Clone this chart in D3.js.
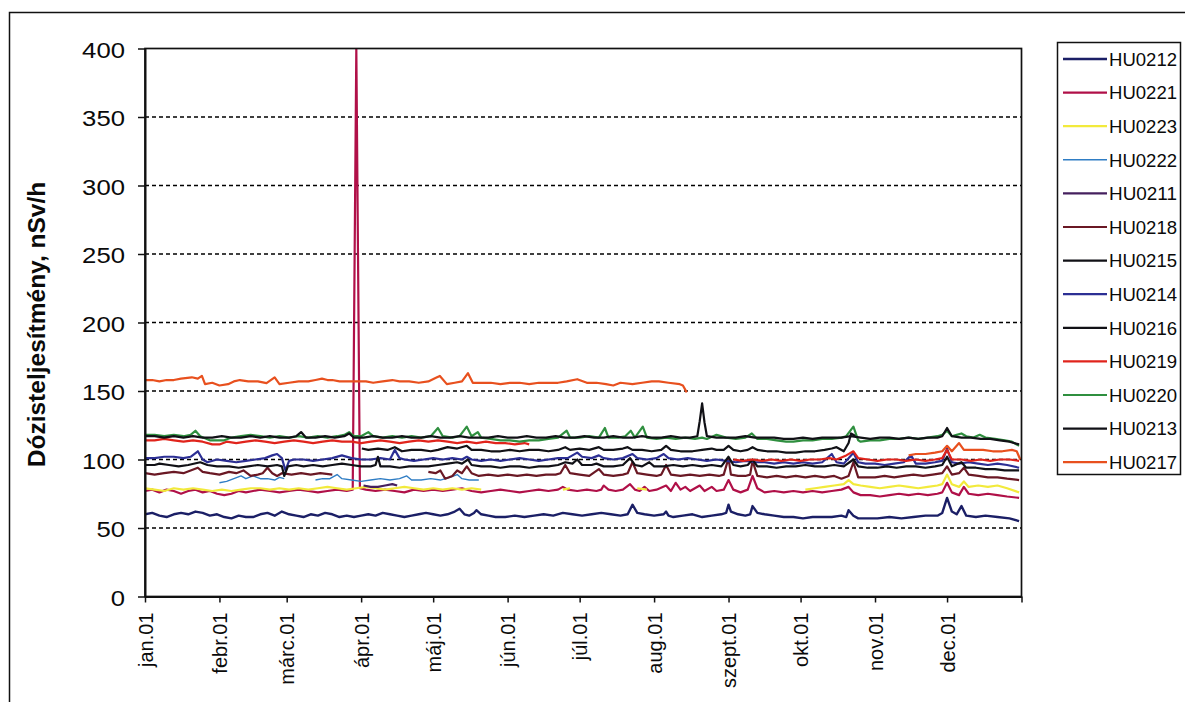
<!DOCTYPE html>
<html>
<head>
<meta charset="utf-8">
<script src="https://cdn.jsdelivr.net/npm/d3@7/dist/d3.min.js"></script>
<style>
  html, body { margin: 0; padding: 0; background: #fff; }
  svg { display: block; }
  text { font-family: "Liberation Sans", Arial, sans-serif; fill: #0a0a0a; }
</style>
</head>
<body>
<svg id="chart" width="1185" height="702"></svg>
<script>
// Daily dose rate by station, keypoints as [day of year, nSv/h]; null breaks a line.
const HU0212 = [[0,60],[3,61],[6,59],[9,58],[12,60],[15,61],[18,60],[21,62],[24,61],[27,59],[30,60],[33,58],[36,57],[39,59],[42,58],[45,58],[48,60],[51,61],[54,59],[57,62],[60,60],[63,59],[66,58],[69,60],[72,59],[75,61],[78,60],[81,58],[84,59],[87,58],[90,59],[93,60],[96,59],[99,61],[102,60],[105,59],[108,58],[111,59],[114,60],[117,61],[120,60],[123,59],[126,60],[129,62],[131,64],[133,60],[135,59],[137,61],[138,63],[140,60],[143,59],[146,58],[150,58],[154,59],[158,58],[162,59],[166,60],[170,59],[174,61],[178,60],[182,59],[186,60],[190,61],[194,60],[198,59],[201,60],[203,67],[205,61],[208,60],[212,59],[216,60],[217,62],[218,59],[220,58],[224,59],[228,60],[232,58],[236,59],[240,60],[242,61],[243,67],[244,62],[247,60],[250,59],[252,60],[253,66],[255,61],[258,60],[262,59],[266,58],[270,58],[274,57],[278,58],[282,58],[286,58],[290,59],[292,58],[293,63],[295,59],[297,57],[300,57],[305,57],[310,58],[315,57],[320,58],[325,59],[330,59],[332,61],[334,72],[336,62],[338,60],[340,66],[342,59],[346,58],[350,59],[355,58],[360,57],[364,55]];
const HU0221 = [[0,77],[3,78],[6,76],[9,78],[12,77],[15,75],[18,77],[21,78],[24,76],[27,77],[30,75],[33,74],[36,75],[39,77],[42,76],[45,77],[48,78],[52,77],[56,76],[60,77],[64,78],[68,77],[72,76],[76,77],[80,78],[84,77],[86.5,78],[88,400],[89.5,79],[92,78],[96,77],[100,78],[104,77],[108,76],[112,78],[116,77],[120,78],[124,77],[128,78],[132,79],[136,77],[140,76],[144,77],[148,78],[152,77],[156,76],[160,77],[164,78],[168,77],[172,78],[174,80],[176,78],[180,77],[184,78],[188,77],[190,78],[191,81],[193,78],[196,77],[199,78],[202,82],[204,78],[206,77],[208,80],[210,77],[213,78],[217,81],[219,77],[221,83],[223,78],[225,80],[227,77],[231,81],[233,77],[236,80],[238,77],[241,78],[243,85],[245,78],[248,76],[251,78],[253,88],[255,79],[258,76],[262,77],[266,76],[270,77],[274,76],[278,77],[282,76],[286,77],[290,78],[293,80],[295,76],[298,74],[302,74],[306,73],[310,74],[314,75],[318,74],[322,75],[326,74],[330,75],[332,76],[334,83],[336,76],[339,74],[341,80],[343,75],[347,74],[351,75],[355,74],[359,73],[364,72]];
const HU0223 = [[0,79],[4,78],[8,77],[12,79],[16,78],[20,79],[24,78],[28,77],[32,78],[36,77],[40,78],[44,79],[48,79],[52,78],[56,79],[60,78],[64,79],[68,78],[72,79],[76,80],[80,79],[84,78],[88,79],[92,80],[96,79],[100,78],[104,79],[108,80],[112,79],[116,78],[120,79],[124,78],[128,79],[132,78],[136,79],[140,78],[141,null],[174,78],[177,79],[178,null],[205,79],[209,78],[210,null],[275,78],[279,79],[283,80],[287,81],[291,82],[293,85],[295,82],[298,81],[302,80],[306,79],[310,80],[314,81],[318,80],[322,79],[326,80],[330,81],[332,82],[334,89],[336,82],[339,80],[341,84],[343,80],[347,81],[351,80],[355,81],[359,79],[364,76]];
const HU0222 = [[31,83],[34,84],[37,86],[40,88],[42,86],[45,88],[48,86],[51,86],[54,85],[56,87],[58,86],[59,null],[71,85],[74,86],[77,86],[80,89],[82,86],[86,85],[90,84],[94,85],[98,86],[102,85],[106,86],[109,88],[111,85],[115,85],[119,86],[123,85],[127,87],[130,89],[132,86],[135,85],[139,85]];
const HU0211 = [[91,81],[94,80],[97,80],[100,81],[103,82],[105,81]];
const HU0218 = [[0,90],[4,89],[8,90],[12,91],[16,90],[19,92],[22,94],[24,91],[27,90],[31,89],[35,91],[38,90],[41,92],[44,88],[47,89],[49,90],[51,94],[53,90],[55,88],[57,90],[61,89],[65,90],[69,89],[73,90],[78,89],[78.5,null],[118,91],[121,90],[123,92],[125,86],[128,88],[130,92],[132,90],[134,95],[136,90],[139,88],[143,89],[147,88],[151,89],[155,88],[159,89],[163,88],[167,89],[171,89],[173,90],[175,96],[177,90],[181,89],[185,88],[189,93],[191,89],[195,88],[199,89],[201,90],[203,98],[205,90],[209,89],[213,88],[215,89],[217,96],[219,89],[223,88],[227,89],[231,88],[235,89],[239,88],[241,89],[243,101],[244,89],[247,88],[250,88],[252,89],[253,99],[255,88],[259,87],[263,88],[267,87],[271,88],[275,87],[279,88],[283,87],[287,88],[290,86],[293,88],[295,98],[297,87],[300,87],[304,87],[308,88],[312,87],[316,88],[320,89],[324,88],[328,89],[332,90],[334,95],[336,89],[339,90],[341,94],[343,89],[347,88],[351,87],[355,87],[359,86],[364,85]];
const HU0215 = [[90.3,108],[93,107],[97,108],[101,107],[104,109],[107,106],[111,107],[115,107],[119,106],[122,107],[126,109],[130,108],[134,110],[136,107],[140,107],[144,106],[148,106],[152,107],[156,106],[160,107],[164,107],[168,106],[172,107],[175,109],[177,107],[181,108],[185,107],[189,109],[191,107],[195,107],[199,108],[201,109],[203,107],[207,107],[211,106],[215,107],[217,110],[219,107],[223,106],[228,106],[232,107],[236,108],[238,107],[241,107],[243,110],[245,107],[248,106],[251,107],[253,109],[255,107],[259,106],[263,106],[267,105],[271,105],[275,106],[279,106],[283,107],[286,108],[288,109],[291,106],[293,112],[294,119],[296,117]];
const HU0214 = [[0,101],[4,101],[8,102],[12,102],[16,101],[19,102],[22,106],[24,100],[26,98],[30,100],[34,99],[38,98],[42,99],[46,100],[50,101],[53,103],[55,104],[57,101],[58.5,92],[60,99],[62,100],[66,100],[70,99],[74,100],[78,101],[82,103],[86,101],[90,100],[94,100],[98,101],[102,100],[104,107],[106,101],[108,100],[112,99],[116,100],[120,101],[124,100],[128,101],[132,100],[134,102],[136,100],[140,99],[144,100],[148,99],[152,100],[156,101],[160,100],[164,99],[168,100],[172,101],[176,101],[178,103],[180,105],[182,102],[186,101],[189,103],[191,101],[195,100],[199,101],[203,104],[205,101],[209,100],[213,101],[216,104],[218,101],[222,100],[226,101],[230,100],[234,99],[238,100],[242,99],[246,98],[250,99],[254,98],[258,98],[262,97],[266,98],[270,97],[274,98],[278,97],[282,98],[286,104],[288,98],[291,97],[295,105],[297,98],[300,97],[304,97],[308,96],[312,97],[316,98],[319,103],[321,97],[325,97],[329,98],[332,99],[334,108],[336,98],[339,97],[343,98],[347,97],[351,96],[355,97],[359,96],[364,94]];
const HU0216 = [[0,96],[4,96],[6,97],[10,96],[14,95],[18,96],[23,98],[26,96],[30,95],[35,95],[39,94],[43,95],[47,96],[51,95],[55,96],[57,95],[58,88],[59.5,95],[63,96],[66,95],[70,96],[74,95],[78,96],[82,97],[86,96],[90,95],[94,95],[96,96],[97,102],[98,95],[102,95],[106,94],[110,95],[114,95],[118,95],[122,96],[126,97],[130,98],[132,97],[134.5,100],[136,96],[140,95],[144,95],[148,94],[152,95],[156,95],[160,94],[164,95],[168,95],[172,96],[175,98],[178,97],[180,100],[182,96],[186,96],[188,97],[191,95],[195,95],[199,96],[202,101],[204,96],[207,95],[210,98],[212,95],[216,95],[220,96],[224,95],[228,96],[232,95],[236,96],[240,95],[243,102],[245,96],[248,95],[251,96],[253,100],[255,95],[259,95],[263,94],[267,95],[271,95],[275,96],[279,95],[283,95],[287,96],[291,95],[295,100],[297,95],[301,94],[305,94],[309,95],[313,94],[317,95],[321,95],[325,94],[329,95],[332,96],[334,102],[336,95],[340,98],[342,94],[346,94],[350,93],[354,93],[358,92],[364,92]];
const HU0219 = [[0,114],[4,114],[8,115],[12,114],[16,113],[20,114],[24,113],[28,111],[31,111],[34,113],[38,112],[42,113],[46,114],[50,113],[54,112],[58,113],[62,114],[66,113],[70,112],[74,113],[78,114],[82,113],[86,113],[90,112],[94,113],[98,114],[102,113],[106,112],[110,113],[114,114],[118,113],[122,114],[126,113],[130,112],[134,113],[138,112],[142,113],[146,112],[150,112],[154,111],[158,112],[160,111],[160.5,null],[245,100],[249,99],[253,100],[257,99],[261,100],[265,99],[269,100],[273,99],[277,100],[281,100],[285,101],[288,100],[292,103],[295,106],[297,101],[301,100],[305,99],[309,100],[313,100],[317,99],[321,100],[325,99],[329,100],[332,101],[334,107],[336,100],[340,100],[344,99],[348,100],[352,99],[356,100],[360,100],[364,99]];
const HU0220 = [[0,118],[4,118],[8,117],[12,118],[16,117],[19,118],[21,121],[23,117],[27,114],[30,114],[33,114],[36,116],[40,117],[44,118],[48,117],[52,116],[56,117],[60,116],[64,117],[68,116],[72,117],[76,116],[80,117],[83,118],[85,120],[87,117],[90,117],[93,120],[95,117],[99,116],[103,117],[107,116],[111,117],[115,116],[119,117],[122,123],[124,117],[128,116],[131,117],[134,124],[136,117],[138.6,120],[140,116],[144,115],[148,114],[152,114],[156,113],[160,114],[164,114],[168,115],[172,116],[175.6,121],[177,116],[181,116],[185,117],[189,116],[191.5,123],[193,116],[197,116],[200,117],[202.3,121],[204,116],[207.3,124],[209,116],[213,115],[217,116],[221,115],[225,116],[229,115],[232,116],[234,115],[238,118],[242,116],[246,115],[250,116],[252.7,119],[255,115],[259,115],[263,114],[267,113],[270,113],[274,114],[278,114],[282,115],[286,115],[290,116],[292,117],[295,124],[297,114],[298,113],[302,114],[306,114],[310,115],[314,115],[318,116],[322,115],[326,116],[330,117],[332,118],[334,121],[336,117],[338,118],[340,119],[342,117],[345,116],[347.6,118],[350,116],[354,115],[358,114],[361,113],[364,110]];
const HU0213 = [[0,117],[4,117],[8,116],[12,117],[16,116],[20,117],[24,116],[28,116],[32,117],[36,116],[40,116],[44,117],[48,116],[52,117],[56,116],[60,116],[63,117],[65,120],[67,116],[71,116],[75,117],[79,116],[83,117],[85,119],[87,116],[91,116],[95,117],[99,116],[103,116],[107,117],[111,116],[115,116],[119,117],[123,116],[127,116],[131,117],[135,116],[139,116],[143,116],[147,117],[151,116],[155,116],[159,117],[163,116],[167,116],[171,117],[175,116],[179,116],[183,117],[187,116],[191,116],[195,117],[199,116],[203,116],[207,117],[211,116],[215,116],[219,117],[223,116],[227,116],[230,117],[231,128],[232,141],[233,127],[234,117],[238,116],[242,116],[246,116],[250,117],[254,116],[258,116],[262,116],[266,115],[270,115],[274,116],[278,115],[282,116],[286,116],[290,116],[294,117],[298,116],[302,115],[306,116],[310,116],[314,115],[318,116],[322,115],[326,116],[330,116],[332,117],[334,123],[336,117],[340,116],[344,116],[348,115],[352,115],[356,114],[360,113],[364,111]];
const HU0217 = [[0,158],[3,158],[6,157],[9,158],[12,158],[15,159],[19.5,160],[22,159],[23.7,161],[25,155],[28,156],[31,154],[34.6,155],[37,157],[39.5,158],[43,157],[47,157],[50.6,155.7],[54,160],[56,155],[60,156],[64,157],[68,157],[71,158],[73.7,159],[76,158],[78,158],[81,157],[85,157],[89,157],[92,157],[95,156],[99,157],[103,158],[106,157],[110,157],[114,156],[118,157],[121.6,160],[122.8,161],[125.7,155],[129,156],[132,157],[134.5,163],[136.5,156],[140,156],[144,156],[148,155],[152,156],[156,156],[160,155],[164,156],[168,156],[172,156],[175.6,157],[180,158.6],[184,156],[188,156],[192,155],[195,154],[198,156],[203,155],[207,156],[211,157],[214,157],[218,156],[222.7,155],[224,154],[225.6,149],[226,null],[318,103],[321,104],[325,104],[329,105],[332,106],[334,110],[336,106],[339,112],[341,107],[345,107],[349,107],[353,106],[357,106],[361,107],[363,106],[364.5,100]];

// Legend / drawing order
const seriesNames = ["HU0212","HU0221","HU0223","HU0222","HU0211","HU0218","HU0215","HU0214","HU0216","HU0219","HU0220","HU0213","HU0217"];
const seriesValues = [HU0212,HU0221,HU0223,HU0222,HU0211,HU0218,HU0215,HU0214,HU0216,HU0219,HU0220,HU0213,HU0217];
const seriesColors = ["#1b1f66","#b01048","#f2ea3c","#2f7dc4","#45205e","#6a1824","#111116","#2c2f94","#111116","#e0241c","#2f8f3f","#111116","#e8501e"];
const seriesWidths = [2.4,2.2,2.2,1.4,2.2,2.2,2.2,2.2,2.2,2.2,2.2,2.2,2.2];

const yTicks = [0,50,100,150,200,250,300,350,400];
const monthLabels = ["jan.01","febr.01","márc.01","ápr.01","máj.01","jún.01","júl.01","aug.01","szept.01","okt.01","nov.01","dec.01",""];
const yTitle = "Dózisteljesítmény, nSv/h";

const svg = d3.select("#chart");
const plot = { left: 145, right: 1021.5, top: 48.5, bottom: 596.5 };
const t0 = Date.UTC(2007, 0, 1), t1 = Date.UTC(2008, 0, 1);
const dayDate = d => new Date(t0 + d * 864e5);

const x = d3.scaleUtc().domain([new Date(t0), new Date(t1)]).range([plot.left, plot.right]);
const y = d3.scaleLinear().domain([0, 400]).range([plot.bottom, plot.top]);

// outer chart frame
svg.append("rect").attr("x", 9.5).attr("y", 12.5).attr("width", 1200).attr("height", 720)
  .attr("fill", "none").attr("stroke", "#111").attr("stroke-width", 1.5);

// dashed gridlines
svg.append("g").selectAll("line").data(yTicks.filter(v => v > 0 && v < 400)).join("line")
  .attr("x1", plot.left).attr("x2", plot.right)
  .attr("y1", d => y(d)).attr("y2", d => y(d))
  .attr("stroke", "#000").attr("stroke-width", 1.3).attr("stroke-dasharray", "4,3");

// clip for series
svg.append("clipPath").attr("id", "plotclip").append("rect")
  .attr("x", plot.left).attr("y", plot.top).attr("width", plot.right - plot.left).attr("height", plot.bottom - plot.top);

const line = d3.line().defined(p => p[1] != null).x(p => x(dayDate(p[0]))).y(p => y(p[1]));
const lines = svg.append("g").attr("clip-path", "url(#plotclip)");
seriesValues.forEach((vals, i) => {
  lines.append("path").datum(vals).attr("d", line)
    .attr("fill", "none").attr("stroke", seriesColors[i]).attr("stroke-width", seriesWidths[i])
    .attr("stroke-linejoin", "round");
});

// plot border
svg.append("rect").attr("x", plot.left).attr("y", plot.top)
  .attr("width", plot.right - plot.left).attr("height", plot.bottom - plot.top)
  .attr("fill", "none").attr("stroke", "#111").attr("stroke-width", 1.7);

// y axis; labels are set a little wide, as the printed digits are
const yAxis = svg.append("g").attr("transform", `translate(${plot.left},0)`)
  .call(d3.axisLeft(y).tickValues(yTicks).tickSize(7).tickPadding(13).tickSizeOuter(0));
yAxis.select(".domain").attr("stroke", "#111").attr("stroke-width", 2);
yAxis.selectAll(".tick line").attr("stroke", "#111").attr("stroke-width", 1.5);
yAxis.selectAll("text")
  .style("font-size", "22px")
  .attr("dy", "0.4em")
  .attr("textLength", d => String(d).length * 14.3)
  .attr("lengthAdjust", "spacingAndGlyphs");

// x axis
const monthTicks = d3.utcMonth.range(new Date(t0), new Date(t1 + 1));
const xAxis = svg.append("g").attr("transform", `translate(0,${plot.bottom})`)
  .call(d3.axisBottom(x).tickValues(monthTicks).tickSize(6).tickSizeOuter(0)
    .tickFormat((d, i) => monthLabels[i]));
xAxis.select(".domain").attr("stroke", "#111").attr("stroke-width", 2);
xAxis.selectAll(".tick line").attr("stroke", "#111").attr("stroke-width", 1.5);
xAxis.selectAll("text")
  .attr("transform", "rotate(-90)")
  .attr("x", -16).attr("y", 0).attr("dy", "0.36em")
  .style("text-anchor", "end")
  .style("font-size", "20px");

// y axis title
svg.append("text").attr("transform", `translate(45,${(plot.top + plot.bottom) / 2 + 2}) rotate(-90)`)
  .attr("text-anchor", "middle").style("font-size", "24.5px").style("font-weight", "bold")
  .text(yTitle);

// legend
const lg = { x: 1057, y: 42, w: 123, h: 432, rowTop: 59, step: 33.6 };
svg.append("rect").attr("x", lg.x + 0.5).attr("y", lg.y + 0.5).attr("width", lg.w).attr("height", lg.h)
  .attr("fill", "#fff").attr("stroke", "#111").attr("stroke-width", 1.5);
const rows = svg.append("g").selectAll("g").data(seriesNames).join("g")
  .attr("transform", (d, i) => `translate(${lg.x},${lg.rowTop + i * lg.step})`);
rows.append("line").attr("x1", 6).attr("x2", 50).attr("y1", 0).attr("y2", 0)
  .attr("stroke", (d, i) => seriesColors[i]).attr("stroke-width", (d, i) => seriesWidths[i]);
rows.append("text").attr("x", 52).attr("y", 0).attr("dy", "0.36em")
  .style("font-size", "19px")
  .attr("textLength", 68).attr("lengthAdjust", "spacingAndGlyphs")
  .text(d => d);
</script>
</body>
</html>
